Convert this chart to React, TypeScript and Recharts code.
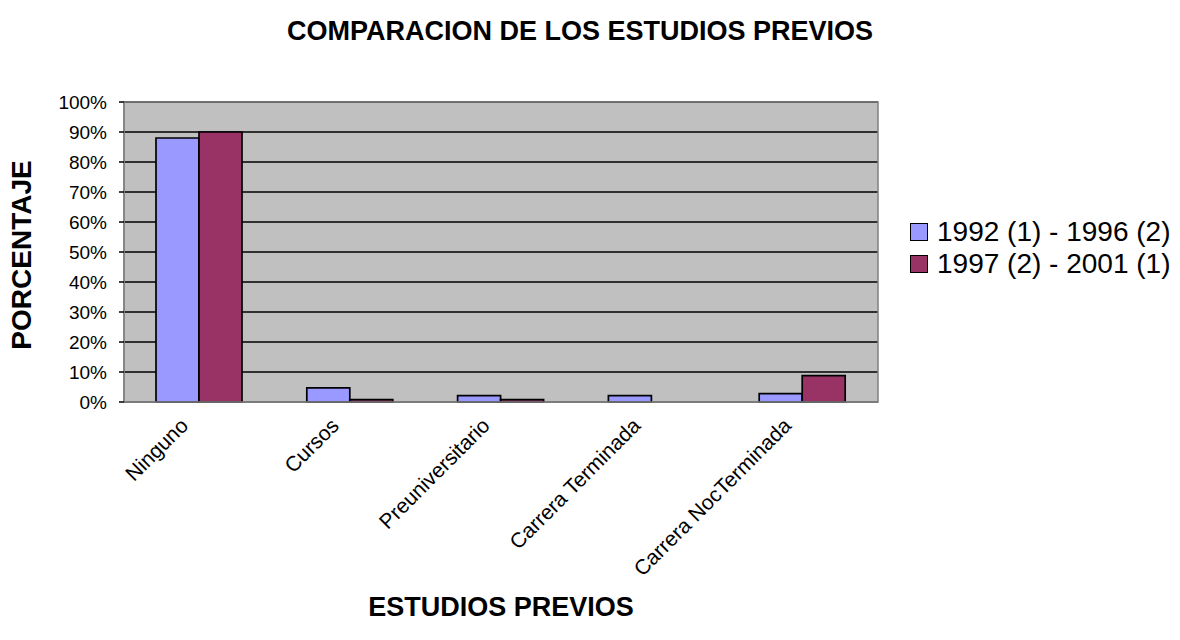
import { BarChart, Bar, XAxis, YAxis, CartesianGrid, ReferenceArea } from 'recharts';

const categories = ['Ninguno', 'Cursos', 'Preuniversitario', 'Carrera Terminada', 'Carrera NocTerminada'];
const serie1992 = [88, 4.7, 2.1, 2.1, 2.8];
const serie1997 = [90, 0.8, 0.8, 0, 8.8];
const yTicks = [0, 10, 20, 30, 40, 50, 60, 70, 80, 90, 100];
const seriesNames = ['1992 (1) - 1996 (2)', '1997 (2) - 2001 (1)'];
const colors = ['#9999ff', '#993366'];

const data = categories.map((name, i) => ({ name, a: serie1992[i], b: serie1997[i] }));

const FONT = 'Arial, "Liberation Sans", sans-serif';

const CategoryTick = ({ x, y, payload }: any) => {
  const ax = x - 10;
  const ay = y + 17;
  return (
    <text
      x={ax}
      y={ay}
      textAnchor="end"
      fontSize={21}
      fontFamily={FONT}
      fill="#000"
      transform={`rotate(-45, ${ax}, ${ay})`}
    >
      {payload.value}
    </text>
  );
};

export default function App() {
  return (
    <div style={{ position: 'relative', width: 1180, height: 640, background: '#fff', fontFamily: FONT }}>
      <style>{`body{margin:0}`}</style>
      <BarChart
        width={1180}
        height={640}
        data={data}
        margin={{ top: 102, right: 302, bottom: 208, left: 0 }}
        barGap={0}
        barSize={43}
      >
        <CartesianGrid vertical={false} stroke="#000" strokeWidth={1.7} fill="#c0c0c0" />
        <XAxis
          dataKey="name"
          height={30}
          axisLine={{ stroke: '#808080', strokeWidth: 1.5 }}
          tickLine={false}
          tick={<CategoryTick />}
          interval={0}
        />
        <YAxis
          width={124}
          domain={[0, 100]}
          ticks={yTicks}
          tickFormatter={(v) => `${v}%`}
          axisLine={{ stroke: '#808080', strokeWidth: 1.5 }}
          tickLine={{ stroke: '#000', strokeWidth: 1.5 }}
          tickSize={5}
          tickMargin={12}
          tick={{ fill: '#000', fontSize: 19, fontFamily: FONT }}
          interval={0}
        />
        <ReferenceArea y1={0} y2={100} fill="none" stroke="#808080" strokeWidth={1.5} />
        <Bar dataKey="a" name={seriesNames[0]} fill={colors[0]} stroke="#000" strokeWidth={1.7} isAnimationActive={false} />
        <Bar dataKey="b" name={seriesNames[1]} fill={colors[1]} stroke="#000" strokeWidth={1.7} isAnimationActive={false} />
      </BarChart>

      <svg
        width={1180}
        height={640}
        style={{ position: 'absolute', left: 0, top: 0, pointerEvents: 'none' }}
        fontFamily={FONT}
      >
        <text x={580} y={40} textAnchor="middle" fontSize={27} fontWeight="bold">
          COMPARACION DE LOS ESTUDIOS PREVIOS
        </text>
        <text x={501} y={616} textAnchor="middle" fontSize={27} fontWeight="bold">
          ESTUDIOS PREVIOS
        </text>
        <text x={31} y={255} textAnchor="middle" fontSize={28} fontWeight="bold" transform="rotate(-90, 31, 255)">
          PORCENTAJE
        </text>
      </svg>

      <div style={{ position: 'absolute', left: 910, top: 216, fontSize: 28, color: '#000' }}>
        {seriesNames.map((n, i) => (
          <div key={n} style={{ display: 'flex', alignItems: 'center', height: 32 }}>
            <span
              style={{
                width: 18,
                height: 18,
                background: colors[i],
                border: '1.5px solid #000',
                marginRight: 9,
                boxSizing: 'border-box',
              }}
            />
            {n}
          </div>
        ))}
      </div>
    </div>
  );
}
